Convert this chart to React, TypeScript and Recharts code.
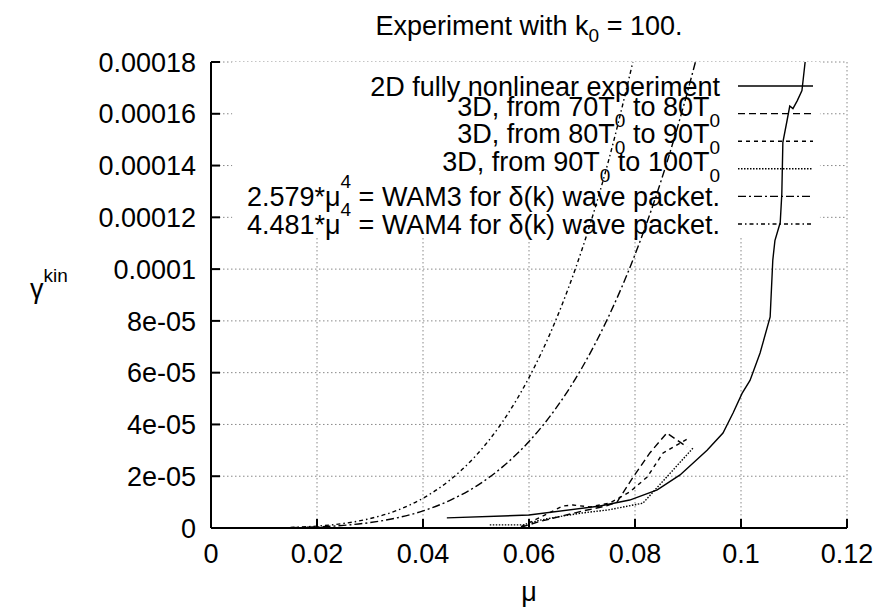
import { CartesianGrid, Line, LineChart, ReferenceArea, XAxis, YAxis } from 'recharts';

const FONT = '"Liberation Sans", Arial, Helvetica, sans-serif';

// axis ticks
const X_TICKS = [0, 0.02, 0.04, 0.06, 0.08, 0.1, 0.12];
const X_TICK_LABELS = ['0', '0.02', '0.04', '0.06', '0.08', '0.1', '0.12'];
const Y_TICKS = [0, 2e-5, 4e-5, 6e-5, 8e-5, 1e-4, 1.2e-4, 1.4e-4, 1.6e-4, 1.8e-4];
const Y_TICK_LABELS = ['0', '2e-05', '4e-05', '6e-05', '8e-05', '0.0001', '0.00012', '0.00014', '0.00016', '0.00018'];

// 2D fully nonlinear experiment
const EXP2D_MU = [0.0445, 0.06, 0.0734, 0.079, 0.0842, 0.0885, 0.0936, 0.0966, 0.0985, 0.1002, 0.1017, 0.1036, 0.1055, 0.106, 0.1064, 0.1074, 0.1077, 0.1079, 0.1087, 0.1092, 0.1098, 0.1106, 0.1115, 0.1121];
const EXP2D_V = [3.9e-6, 5.0e-6, 8.5e-6, 10.8e-6, 14.7e-6, 20.5e-6, 30e-6, 36.7e-6, 44.4e-6, 52e-6, 57e-6, 67.6e-6, 81.5e-6, 103.5e-6, 111e-6, 118e-6, 129e-6, 149e-6, 157.5e-6, 163e-6, 162e-6, 165e-6, 169e-6, 180e-6];

// 3D runs
const RUN70_MU = [0.0585, 0.062, 0.066, 0.07, 0.0745, 0.0766, 0.0796, 0.0828, 0.086, 0.0898];
const RUN70_V = [0.3e-6, 2.5e-6, 4.5e-6, 6.5e-6, 8.5e-6, 10e-6, 19.5e-6, 29e-6, 36.7e-6, 31.3e-6];
const RUN80_MU = [0.0585, 0.062, 0.0664, 0.0683, 0.0715, 0.0753, 0.079, 0.0823, 0.0853, 0.0904];
const RUN80_V = [0.5e-6, 4e-6, 8.5e-6, 8.9e-6, 8.1e-6, 9.7e-6, 13.9e-6, 19.7e-6, 29e-6, 35e-6];
const RUN90_MU = [0.0526, 0.0589, 0.062, 0.066, 0.07, 0.075, 0.0815, 0.091];
const RUN90_V = [1.2e-6, 1.2e-6, 3e-6, 4.5e-6, 5.8e-6, 7e-6, 9.6e-6, 31e-6];

// WAM curves
const WAM3_MU = [0.015, 0.02, 0.025, 0.03, 0.035, 0.04, 0.045, 0.05, 0.055, 0.06, 0.065, 0.07, 0.075, 0.08, 0.085, 0.09, 0.0914];
const WAM3_V = [0.13e-6, 0.41e-6, 1.01e-6, 2.09e-6, 3.87e-6, 6.6e-6, 10.6e-6, 16.1e-6, 23.6e-6, 33.4e-6, 46e-6, 61.9e-6, 81.6e-6, 105.6e-6, 134.6e-6, 169.2e-6, 180e-6];
const WAM4_MU = [0.015, 0.02, 0.025, 0.03, 0.035, 0.04, 0.045, 0.05, 0.055, 0.06, 0.065, 0.07, 0.075, 0.0796];
const WAM4_V = [0.23e-6, 0.72e-6, 1.75e-6, 3.63e-6, 6.72e-6, 11.5e-6, 18.4e-6, 28e-6, 41e-6, 58.1e-6, 80e-6, 107.6e-6, 141.8e-6, 180e-6];

const zip = (mu: number[], v: number[]) => mu.map((m, i) => ({ mu: m, v: v[i] }));

type Part = { t: string; sub?: boolean; sup?: boolean };

const SERIES: { key: string; data: { mu: number; v: number }[]; dash?: string; type: 'linear' | 'monotone'; label: Part[] }[] = [
  { key: 'exp2d', data: zip(EXP2D_MU, EXP2D_V), type: 'linear', label: [{ t: '2D fully nonlinear experiment' }] },
  {
    key: 'run70', data: zip(RUN70_MU, RUN70_V), dash: '7 4', type: 'linear',
    label: [{ t: '3D, from 70T' }, { t: '0', sub: true }, { t: ' to 80T' }, { t: '0', sub: true }],
  },
  {
    key: 'run80', data: zip(RUN80_MU, RUN80_V), dash: '4 4', type: 'linear',
    label: [{ t: '3D, from 80T' }, { t: '0', sub: true }, { t: ' to 90T' }, { t: '0', sub: true }],
  },
  {
    key: 'run90', data: zip(RUN90_MU, RUN90_V), dash: '1.5 1.5', type: 'linear',
    label: [{ t: '3D, from 90T' }, { t: '0', sub: true }, { t: ' to 100T' }, { t: '0', sub: true }],
  },
  {
    key: 'wam3', data: zip(WAM3_MU, WAM3_V), dash: '8 3 2 3', type: 'monotone',
    label: [{ t: '2.579*\u03bc' }, { t: '4', sup: true }, { t: ' = WAM3 for \u03b4(k) wave packet.' }],
  },
  {
    key: 'wam4', data: zip(WAM4_MU, WAM4_V), dash: '4 3 1.5 3', type: 'monotone',
    label: [{ t: '4.481*\u03bc' }, { t: '4', sup: true }, { t: ' = WAM4 for \u03b4(k) wave packet.' }],
  },
];

const BottomTick = (props: any) => {
  const { x, y, payload } = props;
  const i = X_TICKS.indexOf(payload.value);
  return (
    <g>
      <line x1={x} x2={x} y1={y - 16} y2={y - 25} stroke="#000" strokeWidth={2} />
      <text x={x} y={y} dy="0.71em" textAnchor="middle" fontSize={27} fontFamily={FONT} fill="#000">
        {i >= 0 ? X_TICK_LABELS[i] : payload.value}
      </text>
    </g>
  );
};

const LeftTick = (props: any) => {
  const { x, y, payload } = props;
  const i = Y_TICKS.indexOf(payload.value);
  return (
    <g>
      <line x1={x + 15} x2={x + 24} y1={y} y2={y} stroke="#000" strokeWidth={2} />
      <text x={x} y={y} dy="0.36em" textAnchor="end" fontSize={27} fontFamily={FONT} fill="#000">
        {i >= 0 ? Y_TICK_LABELS[i] : payload.value}
      </text>
    </g>
  );
};

const TopTick = (props: any) => (
  <line x1={props.x} x2={props.x} y1={props.y} y2={props.y + 9} stroke="#000" strokeWidth={2} />
);

const RightTick = (props: any) => (
  <line x1={props.x} x2={props.x - 9} y1={props.y} y2={props.y} stroke="#000" strokeWidth={2} />
);

function Overlay() {
  const rowY = (i: number) => 86 + i * 27.6;
  return (
    <svg width={880} height={616} style={{ position: 'absolute', left: 0, top: 0, pointerEvents: 'none' }}>
      <text x={529} y={35} textAnchor="middle" fontSize={27} fontFamily={FONT} fill="#000">
        Experiment with k<tspan fontSize={19} dy={7}>0</tspan>
        <tspan dy={-7}> = 100.</tspan>
      </text>
      <text x={30} y={298} fontSize={27} fontFamily={FONT} fill="#000">
        {'\u03b3'}
        <tspan fontSize={19} dy={-16}>kin</tspan>
      </text>
      <text x={529} y={601} textAnchor="middle" fontSize={27} fontFamily={FONT} fill="#000">
        {'\u03bc'}
      </text>
      {SERIES.map((s, i) => {
        const hasSub = s.label.some((p) => p.sub);
        const base = rowY(i) + (hasSub ? 2 : 10);
        return (
          <g key={s.key}>
            <text x={720} y={base} textAnchor="end" fontSize={27} fontFamily={FONT} fill="#000">
              {s.label.map((p, j) => {
                if (p.sub) return <tspan key={j} fontSize={19} dy={11}>{p.t}</tspan>;
                if (p.sup) return <tspan key={j} fontSize={19} dy={-18}>{p.t}</tspan>;
                const prev = s.label[j - 1];
                const dy = prev?.sub ? -11 : prev?.sup ? 18 : 0;
                return <tspan key={j} dy={dy}>{p.t}</tspan>;
              })}
            </text>
            <line x1={738} x2={813} y1={rowY(i)} y2={rowY(i)} stroke="#000" strokeWidth={1.4} strokeDasharray={s.dash} />
          </g>
        );
      })}
    </svg>
  );
}

export default function App() {
  return (
    <div style={{ position: 'absolute', left: 0, top: 0, width: 880, height: 616, background: '#fff' }}>
      <LineChart width={880} height={616} margin={{ top: 62, right: 33, bottom: 28, left: 91 }}>
        <CartesianGrid stroke="#888" strokeDasharray="1.5 2.5" horizontalValues={Y_TICKS} verticalValues={X_TICKS} />
        <XAxis
          dataKey="mu"
          type="number"
          domain={[0, 0.12]}
          ticks={X_TICKS}
          height={60}
          tickSize={0}
          tickMargin={16}
          tickLine={false}
          tick={<BottomTick />}
          axisLine={{ stroke: '#000', strokeWidth: 2 }}
          allowDataOverflow
        />
        <XAxis
          xAxisId="top"
          orientation="top"
          dataKey="mu"
          type="number"
          domain={[0, 0.12]}
          ticks={X_TICKS}
          height={0}
          tickSize={0}
          tickMargin={0}
          tickLine={false}
          tick={<TopTick />}
          axisLine={{ stroke: '#000', strokeWidth: 2 }}
          allowDataOverflow
        />
        <YAxis
          type="number"
          domain={[0, 0.00018]}
          ticks={Y_TICKS}
          width={120}
          tickSize={0}
          tickMargin={15}
          tickLine={false}
          tick={<LeftTick />}
          axisLine={{ stroke: '#000', strokeWidth: 2 }}
          allowDataOverflow
        />
        <YAxis
          yAxisId="right"
          orientation="right"
          type="number"
          domain={[0, 0.00018]}
          ticks={Y_TICKS}
          width={0}
          tickSize={0}
          tickMargin={0}
          tickLine={false}
          tick={<RightTick />}
          axisLine={{ stroke: '#000', strokeWidth: 2 }}
          allowDataOverflow
        />
        {/* key box hides the grid behind it */}
        <ReferenceArea x1={0.004} x2={0.1149} y1={0.0001124} y2={0.00018} fill="#fff" fillOpacity={1} stroke="none" />
        {SERIES.map((s) => (
          <Line
            key={s.key}
            data={s.data}
            dataKey="v"
            type={s.type}
            stroke="#000"
            strokeWidth={1.4}
            strokeDasharray={s.dash}
            dot={false}
            isAnimationActive={false}
          />
        ))}
      </LineChart>
      <Overlay />
    </div>
  );
}
